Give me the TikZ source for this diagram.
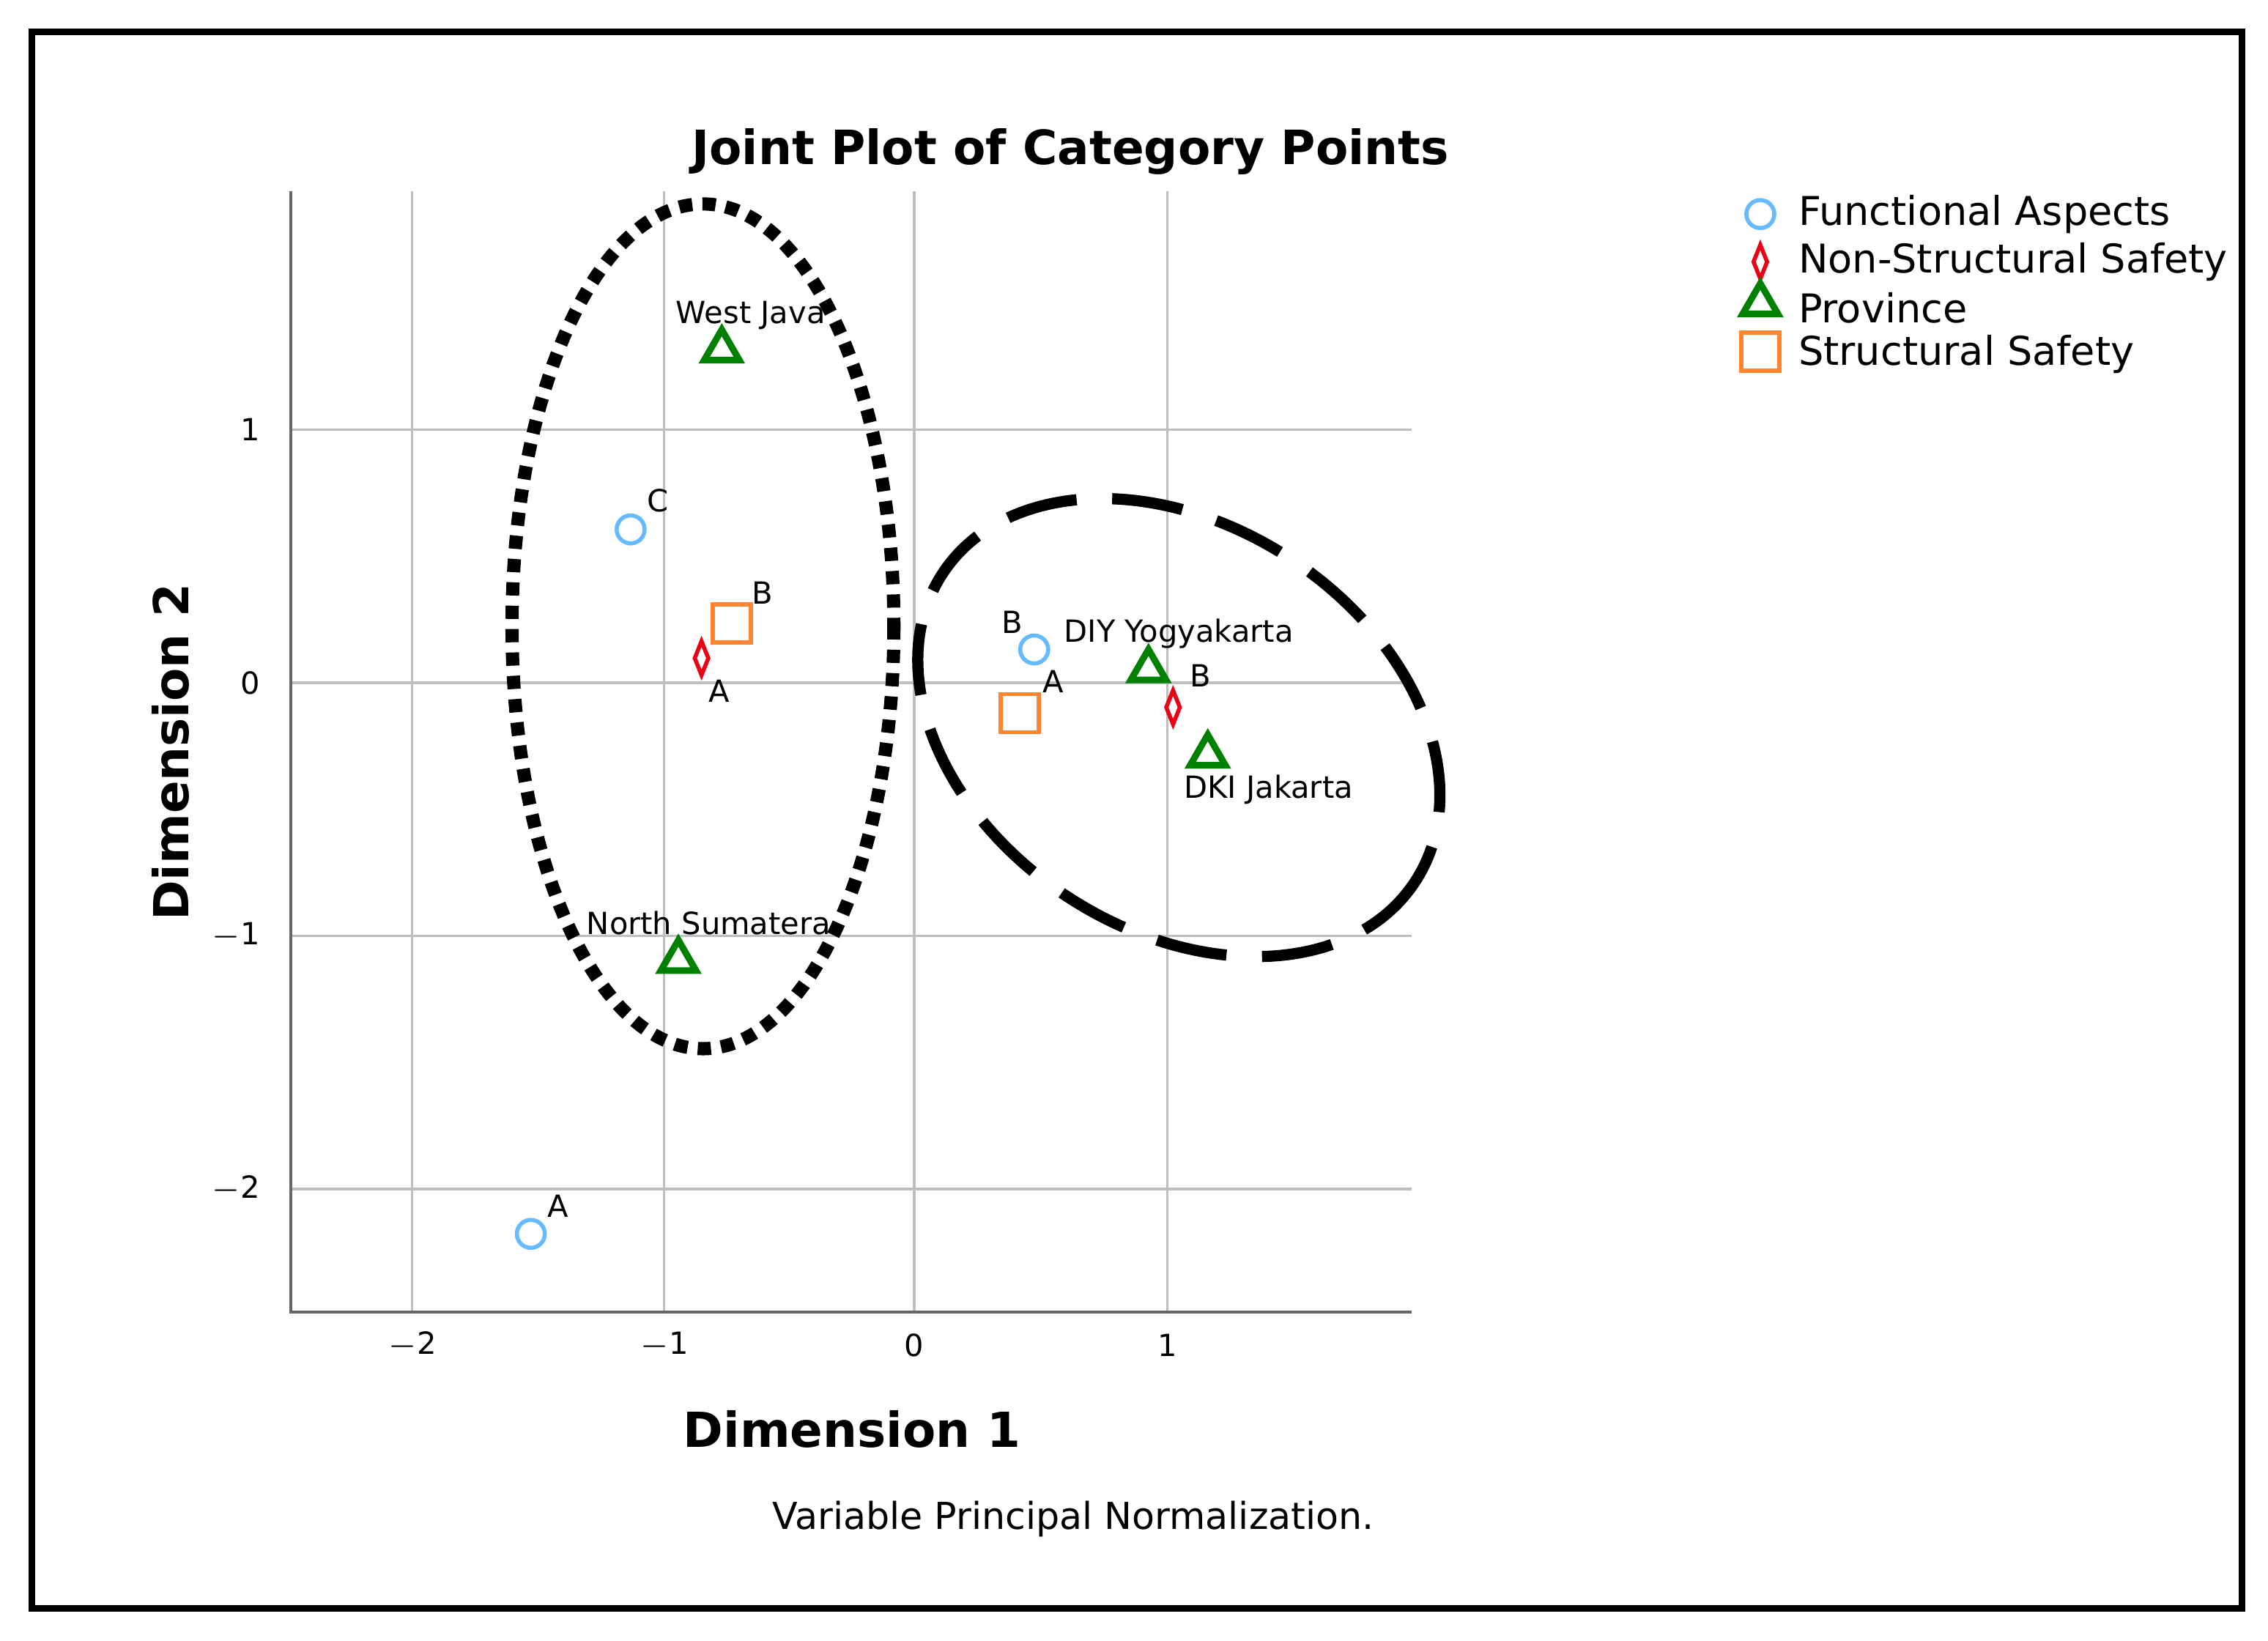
\documentclass[tikz,border=0pt]{standalone}
\usepackage{fontspec}
\setmainfont{DejaVu Sans}
\usetikzlibrary{shapes.geometric}
\begin{document}
\begin{tikzpicture}[x=0.1mm,y=-0.1mm,
 grid/.style={gray!50,line width=0.5pt},
 lab/.style={font=\fontsize{6}{7}\selectfont},
 tick/.style={font=\fontsize{6}{7}\selectfont},
 fa/.style={circle,draw=blue!45!cyan!60,thick,minimum size=5.5pt,inner sep=0},
 ns/.style={diamond,draw=red!70!purple,thick,minimum width=3pt,minimum height=7pt,inner sep=0,aspect=0.4},
 pv/.style={isosceles triangle,isosceles triangle apex angle=60,shape border rotate=90,draw=green!50!black,line width=1.3pt,minimum size=6pt,inner sep=0},
 ss/.style={rectangle,draw=orange!80!red!80,thick,minimum size=7.5pt,inner sep=0},
 leg/.style={font=\fontsize{7.8}{9}\selectfont,anchor=west}]
\useasboundingbox (0,0) rectangle (1568,1134);
\draw[line width=1.2pt] (22,22) rectangle (1550,1112);
% grid
\foreach \x in {285,459,632,807} \draw[grid] (\x,132) -- (\x,907);
\foreach \y in {297,472,647,822} \draw[grid] (201,\y) -- (976,\y);
\draw[gray!80!black,line width=0.6pt] (201,132) -- (201,907) -- (976,907);
\foreach \x/\t in {285/$-$2,459/$-$1,632/0,807/1} \node[tick] at (\x,930) {\t};
\foreach \y/\t in {297/1,472/0,647/$-$1,822/$-$2} \node[tick,anchor=east] at (192,\y) {\t};
\node[font=\bfseries\fontsize{9.3}{11}\selectfont] (title) at (740,105) {Joint Plot of Category Points};
\node[font=\bfseries\fontsize{9.5}{11}\selectfont] (d1) at (589,988) {Dimension 1};
\node[font=\bfseries\fontsize{9.5}{11}\selectfont,rotate=90] (d2) at (118,520) {Dimension 2};
\node[font=\fontsize{7.3}{9}\selectfont] (note) at (742,1050) {Variable Principal Normalization.};
% ellipses
\draw[line width=2.6pt,dotted] (486,433) ellipse [x radius=132,y radius=292];
\draw[line width=2.2pt,dash pattern=on 14pt off 7pt] (815,503) ellipse [x radius=195,y radius=140,rotate=-33];
% points
\node[pv] (wj) at (499,242) {}; \node[lab] at (519,218) {West Java};
\node[fa] (fc) at (436,366) {}; \node[lab] at (455,346) {C};
\node[ss] (sb) at (506,431) {}; \node[lab] at (527,410) {B};
\node[ns] (na) at (485,455) {}; \node[lab] at (497,478) {A};
\node[pv] (nsu) at (469,664) {}; \node[lab] at (490,638) {North Sumatera};
\node[fa] (fa) at (367,853) {}; \node[lab] at (386,834) {A};
\node[fa] (fb) at (715,449) {}; \node[lab] at (700,430) {B};
\node[lab] at (815,438) {DIY Yogyakarta};
\node[ss] (sa) at (705,493) {}; \node[lab] at (728,471) {A};
\node[pv] (diy) at (794,463) {};
\node[ns] (nb) at (811,489) {}; \node[lab] at (830,467) {B};
\node[pv] (dki) at (835,522) {}; \node[lab] at (877,546) {DKI Jakarta};
% legend
\node[fa] (l1) at (1217,148) {}; \node[leg] at (1231,148) {Functional Aspects};
\node[ns] (l2) at (1217,181) {}; \node[leg] at (1231,181) {Non-Structural Safety};
\node[pv] (l3) at (1217,210) {}; \node[leg] at (1231,213) {Province};
\node[ss] (l4) at (1217,243) {}; \node[leg] at (1231,245) {Structural Safety};
\end{tikzpicture}
\end{document}
